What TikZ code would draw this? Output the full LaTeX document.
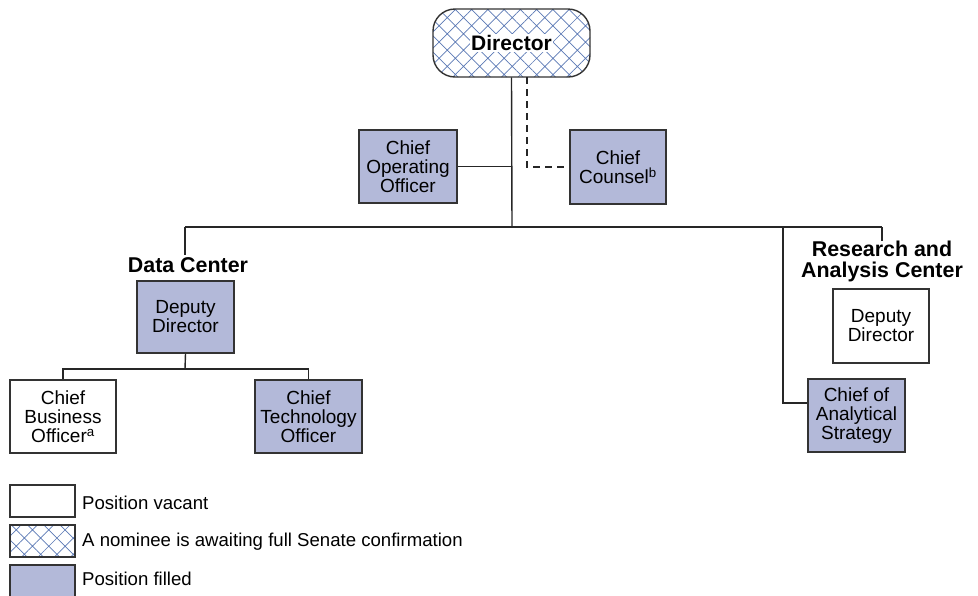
\documentclass[tikz,border=0pt]{standalone}
\usepackage{fontspec}
\setmainfont{Liberation Sans}
\usetikzlibrary{patterns.meta}
\definecolor{filled}{HTML}{B3B9D9}
\definecolor{hatchblue}{HTML}{5A78B4}
\definecolor{edge}{HTML}{333333}
\tikzset{
  box/.style={draw=edge, line width=1.4pt, rectangle, align=center, inner sep=0pt,
    font=\fontsize{19}{19}\selectfont},
  filledbox/.style={box, fill=filled},
  vacantbox/.style={box, fill=white},
  hatchbox/.style={box, pattern={Hatch[angle=45,distance=11.5pt,line width=0.7pt]}, pattern color=hatchblue},
  conn/.style={draw=black!85, line width=1.4pt},
  head/.style={font=\bfseries\fontsize{21.4}{21}\selectfont, align=center, inner sep=0pt},
  legendtext/.style={font=\fontsize{18.6}{19}\selectfont, anchor=west, inner sep=0pt}
}
\begin{document}
\begin{tikzpicture}[x=1pt,y=-1pt]
\useasboundingbox (0,0) rectangle (978,595);
% Director
\node[hatchbox, rounded corners=22pt, minimum width=157pt, minimum height=68pt] (dir) at (511.5,43) {};
\node[font=\bfseries\fontsize{21}{22}\selectfont, fill=white, inner sep=1.5pt] (dirt) at (dir.center) {Director};
% Second tier
\node[filledbox, minimum width=98pt, minimum height=73pt] (coo) at (408,166.5) {Chief\\Operating\\Officer};
\node[filledbox, minimum width=96pt, minimum height=74pt] (cc) at (618,167) {Chief\\Counsel\textsuperscript{b}};
% Centers
\node[head] (dclab) at (188,265) {Data Center};
\node[head] (raclab) at (882,261) {Research and\\Analysis Center};
\node[filledbox, minimum width=97pt, minimum height=72pt] (dcdd) at (185.5,317) {Deputy\\Director};
\node[vacantbox, minimum width=106pt, minimum height=73pt] (cbo) at (63,416.5) {Chief\\Business\\Officer\textsuperscript{a}};
\node[filledbox, minimum width=107pt, minimum height=73pt] (cto) at (308.5,416.5) {Chief\\Technology\\Officer};
\node[vacantbox, minimum width=96pt, minimum height=74pt] (racdd) at (881,326) {Deputy\\Director};
\node[filledbox, minimum width=97pt, minimum height=73pt] (cas) at (856.5,415.5) {Chief of\\Analytical\\Strategy};
% Junctions
\coordinate (hub) at (512,227);
\coordinate (jl) at (185,227);
\coordinate (jr) at (882,227);
\coordinate (jr2) at (783,227);
\coordinate (dcj) at (185,369);
% Connectors
\draw[conn] (dir.south) -- (hub);
\draw[conn] (jl) -- (jr);
\draw[conn] (coo.east) -- (coo.east -| hub);
\draw[conn, dashed, dash pattern=on 7pt off 5pt] ([xshift=15.5pt]dir.south) |- (cc.west);
\draw[conn] (jl) -- ([yshift=2pt]jl |- dclab.north);
\draw[conn] (jr) -- ([yshift=-1pt]jr |- raclab.north);
\draw[conn] (jr2) |- ([yshift=12.5pt]cas.west);
\draw[conn] (dcdd.south) -- (dcj);
\draw[conn] (cbo.north) |- (dcj) -| (cto.north);
% Legend
\node[vacantbox, minimum width=65pt, minimum height=32pt] (lv) at (42.5,501) {};
\node[hatchbox, minimum width=65pt, minimum height=32pt] (ln) at (42.5,541) {};
\node[filledbox, minimum width=65pt, minimum height=32pt] (lf) at (42.5,581) {};
\node[legendtext] (lvt) at (82,503) {Position vacant};
\node[legendtext] (lnt) at (82,542) {A nominee is awaiting full Senate confirmation};
\node[legendtext] (lft) at (82,579) {Position filled};
\end{tikzpicture}
\end{document}
